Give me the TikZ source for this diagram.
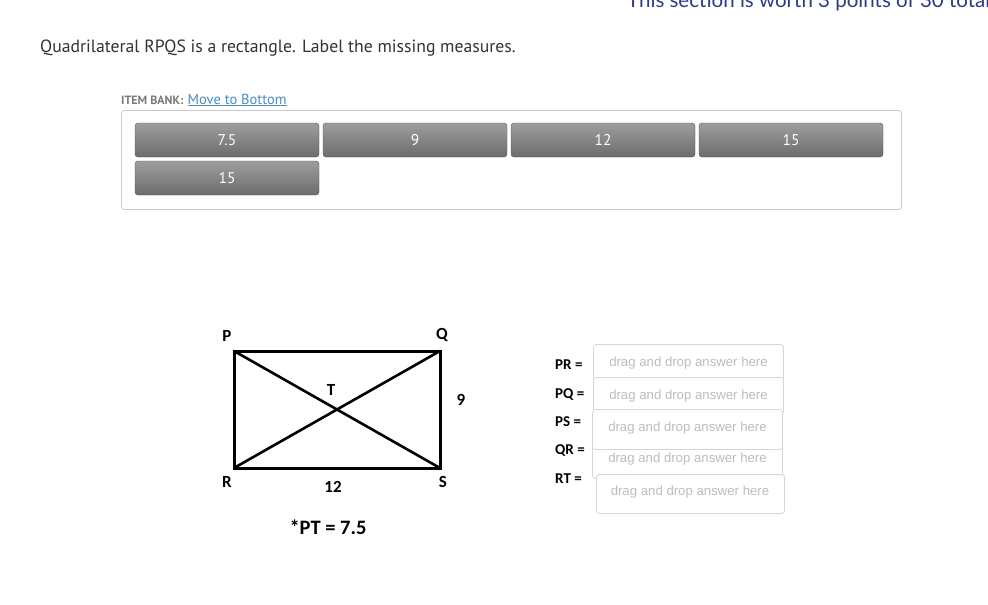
\documentclass[tikz,border=0pt]{standalone}
\usepackage{fontspec}
\setmainfont{PT Sans}
\newfontfamily\calfont{Carlito}
\newfontfamily\arialfont{Liberation Sans}
\newfontfamily\topfont{Lato}
\definecolor{navy}{HTML}{2E3A87}
\definecolor{headgray}{HTML}{333333}
\definecolor{bankgray}{HTML}{7A7A7A}
\definecolor{linkblue}{HTML}{4A8CC4}
\definecolor{boxline}{HTML}{C9C9C9}
\definecolor{dropline}{HTML}{D6D6D6}
\definecolor{droptext}{HTML}{BDBDBD}
\definecolor{btntop}{HTML}{9E9E9E}
\definecolor{btnbot}{HTML}{6C6C6C}
\tikzset{
  btn/.style={rounded corners=3pt, top color=btntop, bottom color=btnbot,
    draw=btnbot!80!black, line width=0.4pt, minimum width=184pt, minimum height=34pt,
    inner sep=0pt, text=white, font=\fontsize{15.5}{17}\selectfont},
  dropbox/.style={draw=dropline, fill=white, rounded corners=3pt, line width=0.8pt},
  droptxt/.style={text=droptext, font=\arialfont\fontsize{13.2}{15}\selectfont, inner sep=0pt},
  eqlabel/.style={font=\calfont\bfseries\fontsize{15}{17}\selectfont, text=black, inner sep=0pt, anchor=base west},
  vlabel/.style={font=\calfont\bfseries\fontsize{17}{19}\selectfont, text=black, inner sep=0pt},
  thickedge/.style={line width=3pt, line cap=rect},
  diag/.style={line width=2.6pt, line cap=round}
}
\begin{document}
\begin{tikzpicture}[x=1pt,y=-1pt]
\useasboundingbox (0,0) rectangle (988,605);
\fill[white] (0,0) rectangle (988,605);
\begin{scope}
  \clip (0,0) rectangle (988,605);
  \node[anchor=base west, inner sep=0pt, text=navy, font=\topfont\fontsize{20.5}{24}\selectfont] (top) at (627,8) {This section is worth 3 points of 30 total};
\end{scope}
\node[anchor=base west, inner sep=0pt, text=headgray, font=\fontsize{17.7}{20}\selectfont] (head) at (40,52) {Quadrilateral RPQS is a rectangle. Label the missing measures.};
\node[anchor=base west, inner sep=0pt, text=bankgray, font=\bfseries\fontsize{12}{14}\selectfont] (bank) at (121,104) {ITEM BANK:};
\node[anchor=base west, inner sep=0pt, text=linkblue, font=\fontsize{14.5}{16}\selectfont] (link) at ([xshift=4pt]bank.base east) {\underline{Move to Bottom}};
\draw[boxline, rounded corners=3pt, line width=0.8pt] (121.5,110.5) rectangle (901.5,209.5);
\node[btn] (b1) at (227,140) {7.5};
\node[btn] (b2) at (415,140) {9};
\node[btn] (b3) at (603,140) {12};
\node[btn] (b4) at (791,140) {15};
\node[btn] (b5) at (227,178) {15};
% rectangle
\coordinate (P) at (234,351);
\coordinate (Q) at (440,351);
\coordinate (R) at (234,468);
\coordinate (S) at (440,468);
\draw[diag] (P) -- (S);
\draw[diag] (Q) -- (R);
\draw[thickedge] (P) -- (Q) -- (S) -- (R) -- cycle;
\node[vlabel] (lP) at (227,336) {P};
\node[vlabel] (lQ) at (442,335) {Q};
\node[vlabel] (lT) at (331,390) {T};
\node[vlabel] (l9) at (461,400) {9};
\node[vlabel] (lR) at (227,482) {R};
\node[vlabel] (l12) at (333,487) {12};
\node[vlabel] (lS) at (443,482) {S};
\node[font=\calfont\bfseries\fontsize{20.5}{22}\selectfont, inner sep=0pt] (pt) at (328,527) {*PT = 7.5};
% answer labels
\node[eqlabel] (ePR) at (555,369.5) {PR =};
\node[eqlabel] (ePQ) at (555,398.5) {PQ =};
\node[eqlabel] (ePS) at (555,426.5) {PS =};
\node[eqlabel] (eQR) at (555,454.5) {QR =};
\node[eqlabel] (eRT) at (555,483.5) {RT =};
% drop boxes
\draw[dropbox] (593.5,344.5) rectangle (783.5,381.5);
\node[droptxt] (d1) at (688.5,363) {drag and drop answer here};
\draw[dropbox] (593.5,377.5) rectangle (783.5,414.5);
\node[droptxt] (d2) at (688.5,396) {drag and drop answer here};
\draw[dropbox] (592.5,441.5) rectangle (782.5,478.5);
\node[droptxt] (d4) at (687.5,459) {drag and drop answer here};
\draw[dropbox] (592.5,409.5) rectangle (782.5,449.5);
\node[droptxt] (d3) at (687.5,428) {drag and drop answer here};
\draw[dropbox] (596.5,474.5) rectangle (784.5,513.5);
\node[droptxt] (d5) at (690,492) {drag and drop answer here};
\end{tikzpicture}
\end{document}
